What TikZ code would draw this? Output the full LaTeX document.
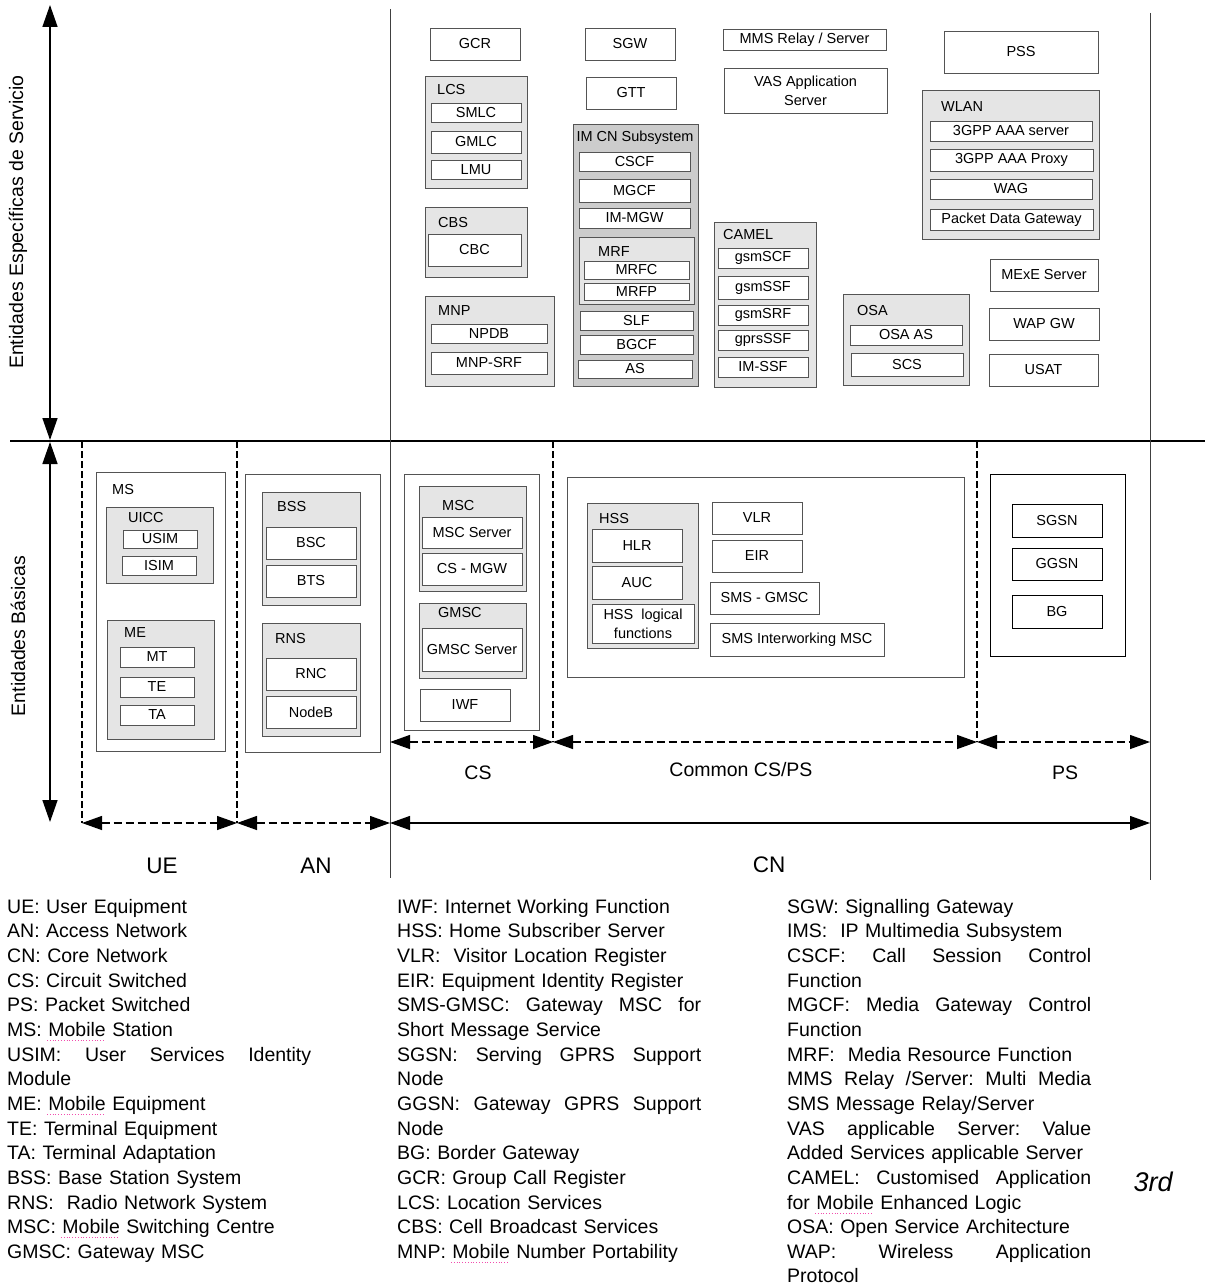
\documentclass[tikz,border=0pt]{standalone}
\usepackage{fontspec}
\setmainfont{Liberation Sans}
\usetikzlibrary{arrows.meta}
\definecolor{grp}{gray}{0.9}
\definecolor{grpdark}{gray}{0.8}
\definecolor{bord}{gray}{0.33}
\definecolor{axis}{gray}{0.25}
\tikzset{
  box/.style={draw=bord, line width=0.9pt, fill=white, inner sep=1pt, outer sep=0pt,
    font=\fontsize{14.5}{19}\selectfont, align=center},
  grpbox/.style={box, fill=grp},
  darkgrp/.style={box, fill=grpdark},
  outerbox/.style={box, fill=none},
  blkbox/.style={box, draw=black},
  glabel/.style={anchor=west, inner sep=0pt, font=\fontsize{14.5}{17}\selectfont},
  biglabel/.style={inner sep=0pt, font=\fontsize{22.5}{26}\selectfont},
  midlabel/.style={inner sep=0pt, font=\fontsize{19.5}{23}\selectfont},
  legend/.style={anchor=north west, inner sep=0pt, text width=304pt, align=left,
    font=\fontsize{19.5}{24.65}\selectfont},
  bigarrow/.style={line width=1.5pt, {Triangle[length=22pt,width=15pt]}-{Triangle[length=22pt,width=15pt]}},
  dasharrow/.style={line width=1.3pt, dash pattern=on 8pt off 4pt,
    {Triangle[length=20pt,width=14pt]}-{Triangle[length=20pt,width=14pt]}},
  solidarrow/.style={line width=1.2pt, {Triangle[length=20pt,width=14pt]}-{Triangle[length=20pt,width=14pt]}},
  dashline/.style={line width=1.2pt, dash pattern=on 7pt off 3pt},
  squiggle/.style={magenta!70, line width=0.8pt, dotted},
}
\newcommand\bx[7][box]{\node[#1,minimum width={#5pt-#3pt},minimum height={#6pt-#4pt}] (#2) at ({(#3+#5)/2},{(#4+#6)/2}) {#7};}
\newcommand\sline[1]{\makebox[304pt][l]{#1}}
\begin{document}
\begin{tikzpicture}[x=1pt,y=-1pt]
\useasboundingbox (0,0) rectangle (1211,1287);

% ---------- frame lines ----------
\coordinate (hl) at (10,441);
\coordinate (hr) at (1205,441);
\draw[line width=1.2pt] (hl) -- (hr);
\coordinate (v1t) at (390,9);
\coordinate (v1b) at (390,878);
\coordinate (v2t) at (1150,13);
\coordinate (v2b) at (1150,880);
\draw[axis, line width=1pt] (v1t) -- (v1b);
\draw[axis, line width=1pt] (v2t) -- (v2b);

% vertical axis arrows
\coordinate (a1t) at (50,5);
\coordinate (a1b) at (50,440);
\coordinate (a2t) at (50,442);
\coordinate (a2b) at (50,822);
\draw[bigarrow] (a1t) -- (a1b);
\draw[bigarrow] (a2t) -- (a2b);

% dashed separators
\coordinate (d1t) at (82,441);  \coordinate (d1b) at (82,823);
\coordinate (d2t) at (237,441); \coordinate (d2b) at (237,823);
\coordinate (d3t) at (553,441); \coordinate (d3b) at (553,742);
\coordinate (d4t) at (977,441); \coordinate (d4b) at (977,742);
\draw[dashline] (d1t) -- (d1b);
\draw[dashline] (d2t) -- (d2b);
\draw[dashline] (d3t) -- (d3b);
\draw[dashline] (d4t) -- (d4b);

% horizontal range arrows
\coordinate (r1) at (390,823);
\coordinate (r2) at (1150,823);
\coordinate (c1) at (390,742);
\coordinate (c4) at (1150,742);
\draw[dasharrow] (d1b) -- (d2b);
\draw[dasharrow] (d2b) -- (r1);
\draw[solidarrow] (r1) -- (r2);
\draw[dasharrow] (c1) -- (d3b);
\draw[dasharrow] (d3b) -- (d4b);
\draw[dasharrow] (d4b) -- (c4);

% axis texts
\node[midlabel, rotate=90] (ees) at (18,222) {Entidades Específicas de Servicio};
\node[midlabel, rotate=90] (eb) at (18,636) {Entidades Básicas};
\node[biglabel] (ue) at (162,866) {UE};
\node[biglabel] (an) at (316,866) {AN};
\node[biglabel] (cn) at (769,865) {CN};
\node[midlabel] (csl) at (478,773) {CS};
\node[midlabel] (ccp) at (741,770) {Common CS/PS};
\node[midlabel] (psl) at (1065,773) {PS};

% ---------- service specific entities ----------
\bx{gcr}{430}{28}{520}{60}{GCR}
\bx{sgw}{585}{28}{675}{60}{SGW}
\bx{gtt}{586}{77}{676}{109}{GTT}
\bx{mms}{723}{29}{886}{50}{MMS Relay / Server}
\bx{vas}{724}{68}{887}{113}{VAS Application\\Server}
\bx{pss}{944}{31}{1098}{73}{PSS}

\bx[grpbox]{lcs}{425}{76}{527}{188}{}
\node[glabel] (lcsl) at (437,90) {LCS};
\bx{smlc}{431}{103}{521}{122}{SMLC}
\bx{gmlc}{431}{131}{521}{153}{GMLC}
\bx{lmu}{431}{160}{521}{179}{LMU}

\bx[grpbox]{cbs}{425}{207}{527}{277}{}
\node[glabel] (cbsl) at (438,223) {CBS};
\bx{cbc}{428}{234}{521}{266}{CBC}

\bx[grpbox]{mnp}{425}{296}{554}{386}{}
\node[glabel] (mnpl) at (438,311) {MNP};
\bx{npdb}{431}{324}{547}{343}{NPDB}
\bx{mnpsrf}{431}{352}{547}{374}{MNP-SRF}

\bx[darkgrp]{imcn}{573}{124}{698}{386}{}
\node[glabel, anchor=center] (imcnl) at (635,138) {IM CN Subsystem};
\bx{cscf}{579}{152}{690}{171}{CSCF}
\bx{mgcf}{579}{179}{690}{202}{MGCF}
\bx{immgw}{579}{208}{690}{228}{IM-MGW}
\bx[grpbox]{mrf}{579}{237}{694}{304}{}
\node[glabel] (mrfl) at (598,252) {MRF};
\bx{mrfc}{584}{261}{689}{279}{MRFC}
\bx{mrfp}{584}{283}{689}{300}{MRFP}
\bx{slf}{580}{311}{693}{330}{SLF}
\bx{bgcf}{580}{335}{693}{354}{BGCF}
\bx{as}{578}{360}{692}{378}{AS}

\bx[grpbox]{camel}{714}{222}{816}{387}{}
\node[glabel] (camell) at (723,235) {CAMEL};
\bx{gsmscf}{718}{248}{808}{268}{gsmSCF}
\bx{gsmssf}{718}{276}{808}{299}{gsmSSF}
\bx{gsmsrf}{718}{305}{808}{325}{gsmSRF}
\bx{gprsssf}{718}{330}{808}{350}{gprsSSF}
\bx{imssf}{718}{357}{808}{377}{IM-SSF}

\bx[grpbox]{wlan}{922}{90}{1099}{239}{}
\node[glabel] (wlanl) at (941,107) {WLAN};
\bx{aaas}{930}{121}{1092}{141}{3GPP AAA server}
\bx{aaap}{930}{149}{1093}{171}{3GPP AAA Proxy}
\bx{wag}{930}{179}{1092}{199}{WAG}
\bx{pdg}{930}{209}{1093}{230}{Packet Data Gateway}

\bx{mexe}{990}{259}{1098}{291}{MExE Server}
\bx{wapgw}{989}{308}{1099}{340}{WAP GW}
\bx{usat}{989}{354}{1098}{386}{USAT}

\bx[grpbox]{osa}{843}{294}{969}{385}{}
\node[glabel] (osal) at (857,311) {OSA};
\bx{osaas}{850}{325}{962}{345}{OSA AS}
\bx{scs}{851}{353}{963}{376}{SCS}

% ---------- basic entities ----------
\bx[outerbox]{ms}{96}{472}{225}{751}{}
\node[glabel] (msl) at (112,490) {MS};
\bx[grpbox]{uicc}{106}{507}{213}{583}{}
\node[glabel] (uiccl) at (128,518) {UICC};
\bx{usim}{123}{530}{197}{548}{USIM}
\bx{isim}{122}{556}{196}{575}{ISIM}
\bx[grpbox]{me}{107}{620}{214}{739}{}
\node[glabel] (mel) at (124,633) {ME};
\bx{mt}{120}{647}{194}{667}{MT}
\bx{te}{120}{677}{194}{697}{TE}
\bx{ta}{120}{705}{194}{725}{TA}

\bx[outerbox]{anbox}{245}{474}{380}{752}{}
\bx[grpbox]{bss}{262}{492}{360}{605}{}
\node[glabel] (bssl) at (277,507) {BSS};
\bx{bsc}{266}{527}{356}{559}{BSC}
\bx{bts}{266}{565}{356}{597}{BTS}
\bx[grpbox]{rns}{262}{623}{360}{736}{}
\node[glabel] (rnsl) at (275,639) {RNS};
\bx{rnc}{266}{658}{356}{690}{RNC}
\bx{nodeb}{266}{696}{356}{728}{NodeB}

\bx[outerbox]{csbox}{404}{474}{539}{730}{}
\bx[grpbox]{msc}{419}{486}{526}{591}{}
\node[glabel] (mscl) at (442,506) {MSC};
\bx{mscs}{422}{517}{522}{548}{MSC Server}
\bx{csmgw}{422}{553}{522}{585}{CS - MGW}
\bx[grpbox]{gmsc}{419}{603}{526}{678}{}
\node[glabel] (gmscl) at (438,613) {GMSC};
\bx{gmscs}{422}{628}{522}{671}{GMSC Server}
\bx{iwf}{420}{689}{510}{721}{IWF}

\bx[outerbox]{common}{567}{477}{964}{677}{}
\bx[grpbox]{hss}{587}{503}{698}{648}{}
\node[glabel] (hssl) at (599,519) {HSS};
\bx{hlr}{592}{529}{682}{562}{HLR}
\bx{auc}{592}{566}{682}{599}{AUC}
\bx{hsslf}{592}{604}{694}{643}{HSS\ \ logical\\functions}
\bx{vlr}{712}{502}{802}{534}{VLR}
\bx{eir}{712}{540}{802}{572}{EIR}
\bx{smsgmsc}{710}{582}{819}{614}{SMS - GMSC}
\bx{smsiw}{710}{623}{884}{656}{SMS Interworking MSC}

\bx[outerbox, draw=black]{psbox}{990}{474}{1125}{656}{}
\bx[blkbox]{sgsn}{1012}{504}{1102}{537}{SGSN}
\bx[blkbox]{ggsn}{1012}{548}{1102}{580}{GGSN}
\bx[blkbox]{bg}{1012}{595}{1102}{628}{BG}

% ---------- legend ----------
\node[legend] (leg1) at (7,895) {\rule{0pt}{18pt}UE: User Equipment\\
AN: Access Network\\
CN: Core Network\\
CS: Circuit Switched\\
PS: Packet Switched\\
MS: Mobile Station\\
\sline{USIM:\hfill User\hfill Services\hfill Identity}\\
Module\\
ME: Mobile Equipment\\
TE: Terminal Equipment\\
TA: Terminal Adaptation\\
BSS: Base Station System\\
RNS:\ \ Radio Network System\\
MSC: Mobile Switching Centre\\
GMSC: Gateway MSC};

\node[legend] (leg2) at (397,895) {\rule{0pt}{18pt}IWF: Internet Working Function\\
HSS: Home Subscriber Server\\
VLR:\ \ Visitor Location Register\\
EIR: Equipment Identity Register\\
\sline{SMS-GMSC:\hfill Gateway\hfill MSC\hfill for}\\
Short Message Service\\
\sline{SGSN:\hfill Serving\hfill GPRS\hfill Support}\\
Node\\
\sline{GGSN:\hfill Gateway\hfill GPRS\hfill Support}\\
Node\\
BG: Border Gateway\\
GCR: Group Call Register\\
LCS: Location Services\\
CBS: Cell Broadcast Services\\
MNP: Mobile Number Portability};

\node[legend] (leg3) at (787,895) {\rule{0pt}{18pt}SGW: Signalling Gateway\\
IMS:\ \ IP Multimedia Subsystem\\
\sline{CSCF:\hfill Call\hfill Session\hfill Control}\\
Function\\
\sline{MGCF:\hfill Media\hfill Gateway\hfill Control}\\
Function\\
MRF:\ \ Media Resource Function\\
\sline{MMS\hfill Relay\hfill /Server:\hfill Multi\hfill Media}\\
SMS Message Relay/Server\\
\sline{VAS\hfill applicable\hfill Server:\hfill Value}\\
Added Services applicable Server\\
\sline{CAMEL:\hfill Customised\hfill Application}\\
for Mobile Enhanced Logic\\
OSA: Open Service Architecture\\
\sline{WAP:\hfill Wireless\hfill Application}\\
Protocol};

\node[inner sep=0pt, font=\fontsize{27}{30}\selectfont\itshape] (third) at (1153,1182) {3rd};

% spell-check marks under "Mobile"
\draw[squiggle] (47,1040) -- (104,1040);
\draw[squiggle] (47,1114) -- (104,1114);
\draw[squiggle] (61,1237) -- (118,1237);
\draw[squiggle] (451,1262) -- (508,1262);
\draw[squiggle] (815,1213) -- (872,1213);
\end{tikzpicture}
\end{document}
